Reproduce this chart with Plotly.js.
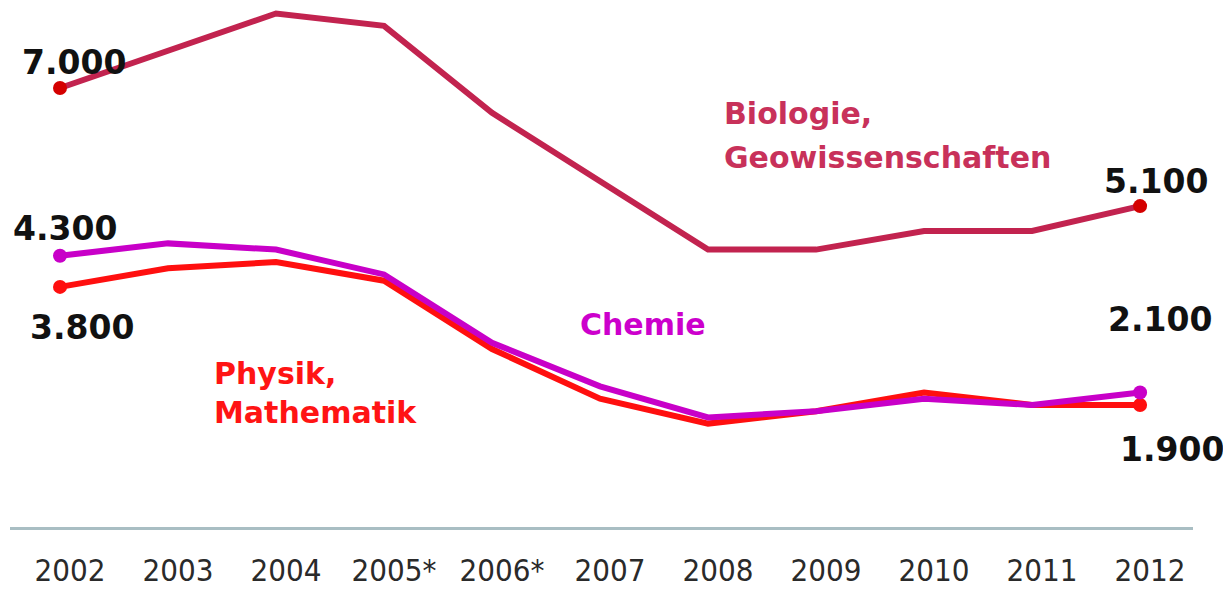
<!DOCTYPE html>
<html><head><meta charset="utf-8">
<script src="https://cdn.plot.ly/plotly-3.0.1.min.js"></script>
<style>html,body{margin:0;padding:0;background:#fff}#chart{width:1223px;height:591px}</style>
</head><body><div id="chart"></div>
<script>
const years = ["2002","2003","2004","2005*","2006*","2007","2008","2009","2010","2011","2012"];
const biologie = [7000, 7600, 8200, 8000, 6600, 5500, 4400, 4400, 4700, 4700, 5100];
const chemie   = [4300, 4500, 4400, 4000, 2900, 2200, 1700, 1800, 2000, 1900, 2100];
const physik   = [3800, 4100, 4200, 3900, 2800, 2000, 1600, 1800, 2100, 1900, 1900];
const endLabels = {bio: ["7.000", "5.100"], chem: ["4.300", "2.100"], phys: ["3.800", "1.900"]};

const idx = years.map((_, i) => i);
const last = years.length - 1;
const BIO = '#c2234f', CHEM = '#c800c8', PHYS = '#ff0f0f', DOT = '#d40000';

function lineTrace(y, color) {
  return {x: idx, y: y, mode: 'lines', line: {color: color, width: 6, shape: 'linear'},
          hoverinfo: 'skip', showlegend: false};
}
function dotTrace(y, color) {
  return {x: [0, last], y: [y[0], y[last]], mode: 'markers',
          marker: {color: color, size: 14}, hoverinfo: 'skip', showlegend: false};
}
const traces = [
  lineTrace(physik, PHYS), lineTrace(chemie, CHEM), lineTrace(biologie, BIO),
  dotTrace(physik, PHYS), dotTrace(chemie, CHEM), dotTrace(biologie, DOT)
];

const numFont = {family: 'DejaVu Sans', size: 33, color: '#111'};
function numAnn(x, y, text, xs, ys) {
  return {x: x, y: y, xref: 'x', yref: 'y', text: '<b>' + text + '</b>', showarrow: false,
          xshift: xs, yshift: ys, font: numFont};
}
const lblFont = (c) => ({family: 'DejaVu Sans', size: 30, color: c});
function lbl(x, y, text, color) {
  return {x: x, y: y, xref: 'x', yref: 'y', xanchor: 'left', yanchor: 'middle', align: 'left',
          text: '<b>' + text + '</b>', showarrow: false, font: lblFont(color)};
}
const annotations = [
  numAnn(0, biologie[0], endLabels.bio[0], 14, 26),
  numAnn(last, biologie[last], endLabels.bio[1], 16, 25),
  numAnn(0, chemie[0], endLabels.chem[0], 5, 27),
  numAnn(last, chemie[last], endLabels.chem[1], 20, 73),
  numAnn(0, physik[0], endLabels.phys[0], 22, -41),
  numAnn(last, physik[last], endLabels.phys[1], 32, -45),
  lbl(6.13, 6590, 'Biologie,', '#c8315a'),
  lbl(6.13, 5880, 'Geowissenschaften', '#c8315a'),
  {x: 5.4, y: 3200, xref: 'x', yref: 'y', xanchor: 'center', yanchor: 'middle',
   text: '<b>Chemie</b>', showarrow: false, font: lblFont('#cc00cc')},
  lbl(1.41, 2400, 'Physik,', '#ff1414'),
  lbl(1.41, 1780, 'Mathematik', '#ff1414')
];

const layout = {
  width: 1223, height: 591,
  margin: {l: 10, r: 30, t: 5, b: 64},
  paper_bgcolor: '#fff', plot_bgcolor: '#fff',
  xaxis: {range: [-0.463, 10.49], tickmode: 'array', tickvals: idx, ticktext: years,
          showgrid: false, zeroline: false, showline: true, linecolor: '#a9bec3', linewidth: 3,
          ticks: '', tickfont: {family: 'DejaVu Sans Condensed', size: 31, color: '#2a2a2a'},
          ticklabelstandoff: 14, ticklabelshift: 10, fixedrange: true},
  yaxis: {range: [-64, 8336], showgrid: false, zeroline: false, showticklabels: false,
          showline: false, ticks: '', fixedrange: true},
  annotations: annotations,
  showlegend: false
};
Plotly.newPlot('chart', traces, layout, {displayModeBar: false, staticPlot: true});
</script></body></html>
